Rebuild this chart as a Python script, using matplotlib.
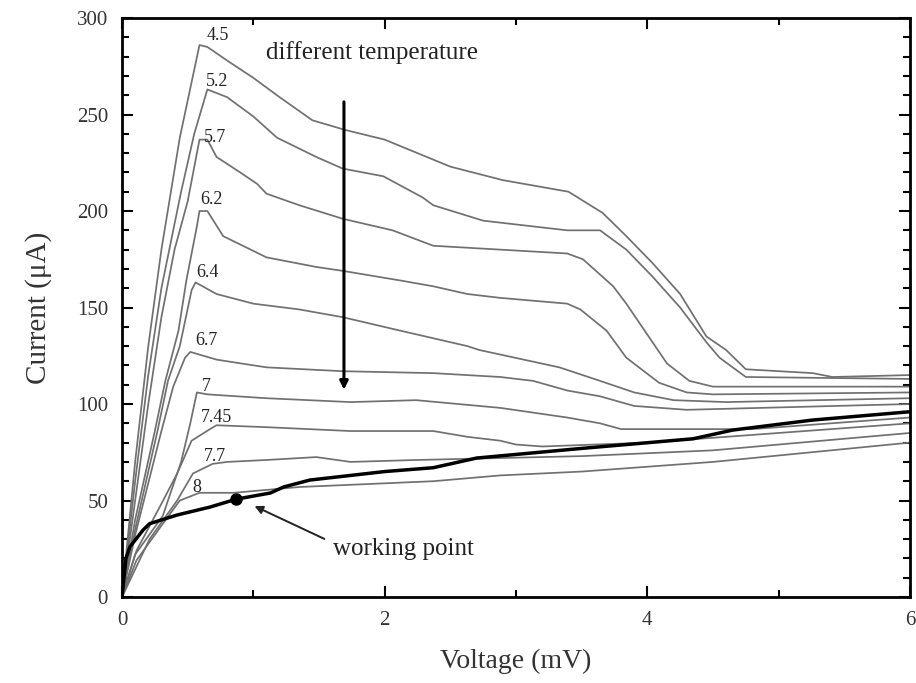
import numpy as np
import matplotlib
matplotlib.use("Agg")
import matplotlib.pyplot as plt
from matplotlib.ticker import MultipleLocator

plt.rcParams['font.family'] = ['Liberation Serif', 'DejaVu Serif']

# I-V curves at different temperatures (voltage mV, current uA)
temps = ["4.5", "5.2", "5.7", "6.2", "6.4", "6.7", "7", "7.45", "7.7", "8"]

v_45 = [0, 0.05, 0.1, 0.2, 0.3, 0.44, 0.59, 0.65, 0.8, 1.0, 1.2, 1.45, 1.7, 2.0, 2.25, 2.5, 2.9, 3.4,
        3.66, 3.84, 4.04, 4.25, 4.45, 4.6, 4.75, 5.26, 5.41, 6.0]
i_45 = [0, 35, 70, 130, 180, 238, 286, 285, 278, 269, 259, 247, 242, 237, 230, 223, 216, 210,
        199, 187, 173, 157, 135, 128, 118, 116, 114, 115]

v_52 = [0, 0.05, 0.1, 0.2, 0.3, 0.45, 0.55, 0.65, 0.8, 1.0, 1.18, 1.48, 1.68, 1.99, 2.29, 2.37, 2.75,
        3.39, 3.64, 3.84, 4.04, 4.25, 4.45, 4.55, 4.75, 6.0]
i_52 = [0, 30, 60, 115, 160, 210, 240, 263, 259, 249, 238, 228, 222, 218, 207, 203, 195,
        190, 190, 180, 166, 150, 132, 124, 114, 113]

v_57 = [0, 0.05, 0.1, 0.2, 0.3, 0.4, 0.5, 0.59, 0.65, 0.72, 0.9, 1.03, 1.1, 1.35, 1.68, 2.06, 2.37,
        2.88, 3.39, 3.51, 3.74, 3.84, 4.04, 4.15, 4.32, 4.5, 6.0]
i_57 = [0, 25, 50, 100, 145, 180, 205, 237, 237, 228, 220, 214, 209, 203, 196, 190, 182,
        180, 178, 175, 161, 152, 132, 121, 112, 109, 109]

v_62 = [0, 0.1, 0.25, 0.33, 0.43, 0.49, 0.57, 0.59, 0.65, 0.77, 1.1, 1.48, 1.68, 2.12, 2.37, 2.63,
        2.88, 3.39, 3.49, 3.69, 3.84, 4.09, 4.3, 4.5, 6.0]
i_62 = [0, 40, 86, 112, 138, 164, 192, 200, 200, 187, 176, 171, 169, 164, 161, 157,
        155, 152, 149, 138, 124, 111, 106, 105, 106]

v_64 = [0, 0.1, 0.27, 0.35, 0.44, 0.53, 0.56, 0.72, 1.0, 1.35, 1.68, 2.12, 2.63, 2.72, 3.33, 3.64,
        3.9, 4.2, 4.6, 6.0]
i_64 = [0, 35, 86, 112, 130, 159, 163, 157, 152, 149, 145, 138, 130, 128, 119, 112,
        106, 102, 101, 103]

v_67 = [0, 0.1, 0.3, 0.39, 0.48, 0.52, 0.72, 1.1, 1.68, 2.37, 2.88, 3.13, 3.39, 3.64, 3.9, 4.3, 6.0]
i_67 = [0, 32, 86, 109, 124, 127, 123, 119, 117, 116, 114, 112, 107, 104, 99, 97, 100]

v_7 = [0, 0.1, 0.31, 0.45, 0.52, 0.57, 0.65, 1.1, 1.74, 2.24, 2.88, 3.39, 3.64, 3.8, 4.8, 6.0]
i_7 = [0, 22, 42, 70, 90, 106, 105, 103, 101, 102, 98, 93, 90, 87, 87, 93]

v_745 = [0, 0.11, 0.29, 0.42, 0.53, 0.67, 0.72, 1.1, 1.74, 2.37, 2.63, 2.88, 3.0, 3.2, 4.0, 6.0]
i_745 = [0, 24, 47, 64, 81, 87, 89, 88, 86, 86, 83, 81, 79, 78, 80, 90]

v_77 = [0, 0.21, 0.42, 0.54, 0.69, 0.8, 1.1, 1.48, 1.74, 2.24, 2.88, 3.5, 4.5, 6.0]
i_77 = [0, 30, 50, 64, 69, 70, 71, 72.5, 70, 71, 72, 73, 76, 85]

v_8 = [0, 0.11, 0.29, 0.44, 0.59, 0.85, 1.35, 2.37, 2.88, 3.5, 4.5, 6.0]
i_8 = [0, 19, 36, 50, 54, 54, 57, 60, 63, 65, 70, 80]

curves_v = [v_45, v_52, v_57, v_62, v_64, v_67, v_7, v_745, v_77, v_8]
curves_i = [i_45, i_52, i_57, i_62, i_64, i_67, i_7, i_745, i_77, i_8]

# label positions for each temperature
label_x = [0.73, 0.72, 0.71, 0.68, 0.65, 0.64, 0.64, 0.72, 0.71, 0.57]
label_y = [291, 267, 238, 206, 168, 133, 109, 93, 73, 56.5]

# bold curve with the working point
v_bold = [0, 0.03, 0.06, 0.16, 0.21, 0.42, 0.67, 0.87, 1.13, 1.23, 1.43, 2.0, 2.37, 2.7, 3.5,
          4.35, 4.65, 5.26, 6.0]
i_bold = [0, 20, 26, 34.7, 38, 42.5, 46.6, 50.7, 53.9, 57, 60.6, 65, 67, 72, 77,
          82, 86.5, 91.7, 96]
work_v, work_i = 0.87, 51

fig = plt.figure(figsize=(9.16, 6.83), dpi=100)
ax = fig.add_axes([0.1332, 0.1259, 0.8602, 0.8477])

for v, i in zip(curves_v, curves_i):
    ax.plot(v, i, color='#707070', lw=1.25)
for t, lx, ly in zip(temps, label_x, label_y):
    ax.text(lx, ly, t, fontsize=13, ha='center', va='center', color='#222222')

ax.plot(v_bold, i_bold, color='black', lw=2.5)
ax.plot(work_v, work_i, 'o', color='black', ms=8)

ax.annotate('', xy=(1.69, 106), xytext=(1.69, 258),
            arrowprops=dict(arrowstyle='-|>', color='black', lw=2.2, mutation_scale=12))
ax.text(1.9, 282, 'different temperature', fontsize=18, ha='center', va='center', color='#222222')

ax.annotate('', xy=(0.99, 47.7), xytext=(1.56, 29.5),
            arrowprops=dict(arrowstyle='-|>', color='#222222', lw=1.4, mutation_scale=12))
ax.text(1.61, 25, 'working point', fontsize=18, ha='left', va='center', color='#222222')

ax.set_xlim(0, 6)
ax.set_ylim(0, 300)
ax.xaxis.set_major_locator(MultipleLocator(2))
ax.xaxis.set_minor_locator(MultipleLocator(1))
ax.yaxis.set_major_locator(MultipleLocator(50))
ax.yaxis.set_minor_locator(MultipleLocator(10))
ax.tick_params(which='both', direction='in', top=True, right=True, width=1.5,
               labelsize=15, pad=10, labelcolor='#333333')
ax.tick_params(which='major', length=8)
ax.tick_params(which='minor', length=5)
for s in ax.spines.values():
    s.set_linewidth(2)

ax.set_xlabel('Voltage (mV)', fontsize=20, labelpad=14, color='#333333')
ax.set_ylabel('Current (\u03bcA)', fontsize=21, labelpad=18, color='#333333')

fig.savefig('out.png', dpi=100)
